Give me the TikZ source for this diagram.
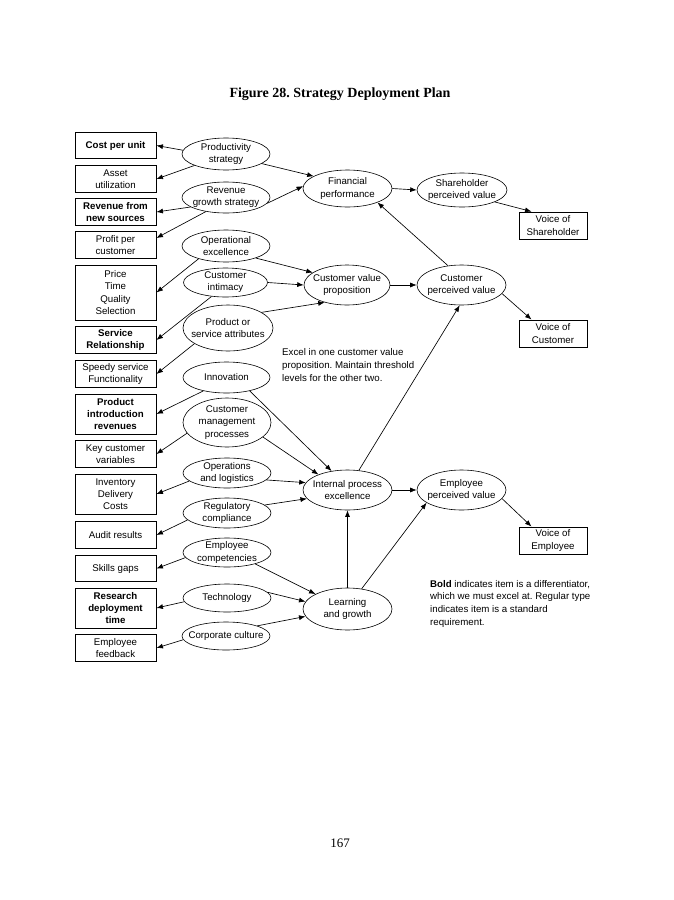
\documentclass[tikz,border=0pt]{standalone}
\usepackage{fontspec}
\setmainfont{Liberation Sans}
\newfontfamily\titlefont{Liberation Serif}
\usepackage{tikz}
\usetikzlibrary{shapes.geometric,arrows.meta,positioning}
\frenchspacing
\tikzset{
node distance=2cm, % not used much, nodes sit at coordinates
goal/.style={draw, ellipse, line width=0.6pt, inner sep=-8pt, align=center, minimum width=88pt, minimum height=31pt}, % ellipses
item/.style={draw, rectangle, line width=0.9pt, inner xsep=1pt, inner ysep=2pt, align=center, minimum width=81pt, minimum height=26.5pt}, % left boxes
voice/.style={item, minimum width=68pt, minimum height=27pt}, % voice boxes
link/.style={-{Latex[length=6.5pt,width=5pt]}, line width=0.65pt}, % connectors
}
\begin{document}
\begin{tikzpicture}[x=1pt,y=-1pt,font=\fontsize{9.7}{12.2}\selectfont]
   \useasboundingbox (0,0) rectangle (674,900);
   \node[font=\titlefont\fontsize{14}{16}\selectfont\bfseries] (title) at (340,94) {Figure 28. Strategy Deployment Plan};
   \node[font=\titlefont\fontsize{13}{15}\selectfont] (page) at (340,843) {167};
   % left column boxes
   \node[item] (cost)      at (115.5,145.5) {\textbf{Cost per unit}};
   \node[item] (asset)     at (115.5,179)   {Asset\\utilization};
   \node[item] (revnew)    at (115.5,212)   {\textbf{Revenue from}\\\textbf{new sources}};
   \node[item] (profit)    at (115.5,245)   {Profit per\\customer};
   \node[item, minimum height=55pt] (price) at (115.5,292.5) {Price\\Time\\Quality\\Selection};
   \node[item] (service)   at (115.5,340)   {\textbf{Service}\\\textbf{Relationship}};
   \node[item] (speedy)    at (115.5,374)   {Speedy service\\Functionality};
   \node[item, minimum height=40pt] (product) at (115.5,414) {\textbf{Product}\\\textbf{introduction}\\\textbf{revenues}};
   \node[item] (keycust)   at (115.5,454)   {Key customer\\variables};
   \node[item, minimum height=40pt] (inventory) at (115.5,494) {Inventory\\Delivery\\Costs};
   \node[item] (audit)     at (115.5,535)   {Audit results};
   \node[item] (skills)    at (115.5,568.5) {Skills gaps};
   \node[item, minimum height=40pt] (research) at (115.5,608) {\textbf{Research}\\\textbf{deployment}\\\textbf{time}};
   \node[item] (feedback)  at (115.5,648)   {Employee\\feedback};
   % second column ellipses
   \node[goal, minimum height=32pt] (prod) at (226,154)   {Productivity\\strategy};
   \node[goal] (rev)   at (226,197.5) {Revenue\\growth strategy};
   \node[goal, minimum height=32pt] (oper) at (226,246)   {Operational\\excellence};
   \node[goal, minimum width=84pt, minimum height=29pt] (cint) at (225.5,282.5) {Customer\\intimacy};
   \node[goal, minimum width=90pt, minimum height=46pt] (psa) at (228,328) {Product or\\service attributes};
   \node[goal, minimum width=87pt] (innov) at (226.5,377.5) {Innovation};
   \node[goal, minimum height=49pt] (cmp) at (227,422.5) {Customer\\management\\processes};
   \node[goal, minimum height=30pt] (ops)  at (227,473)   {Operations\\and logistics};
   \node[goal, minimum height=30pt] (reg)  at (227,513)   {Regulatory\\compliance};
   \node[goal, minimum height=29pt] (empc) at (227,552.5) {Employee\\competencies};
   \node[goal, minimum height=28pt] (tech) at (227,598)   {Technology};
   \node[goal, minimum height=28pt] (corp) at (226,636)   {Corporate culture};
   % middle and right
   \node[goal, minimum width=89pt, minimum height=37pt] (fin) at (347.5,188.5) {Financial\\performance};
   \node[goal, minimum width=90pt, minimum height=34pt] (sh)  at (462,190)     {Shareholder\\perceived value};
   \node[goal, minimum width=86pt, minimum height=40pt] (cvp) at (347,285)     {Customer value\\proposition};
   \node[goal, minimum width=89pt, minimum height=40pt] (cpv) at (461.5,285)   {Customer\\perceived value};
   \node[goal, minimum width=89pt, minimum height=40pt] (ipe) at (347.5,490)   {Internal process\\excellence};
   \node[goal, minimum width=89pt, minimum height=40pt] (epv) at (461.5,490)   {Employee\\perceived value};
   \node[goal, minimum width=89pt, minimum height=42pt] (lg)  at (347.5,609)   {Learning\\and growth};
   \node[voice] (vsh) at (553,225.5) {Voice of\\Shareholder};
   \node[voice] (vcu) at (553,333.5) {Voice of\\Customer};
   \node[voice] (vem) at (553,540.5) {Voice of\\Employee};
   % notes
   \node[anchor=north west, align=left, inner sep=0pt, font=\fontsize{9.7}{13}\selectfont] (excel) at (282,348)
      {Excel in one customer value\\proposition. Maintain threshold\\levels for the other two.};
   \node[anchor=north west, align=left, inner sep=0pt, font=\fontsize{9.7}{12.6}\selectfont] (legend) at (430,580)
      {\textbf{Bold} indicates item is a differentiator,\\which we must excel at. Regular type\\indicates item is a standard\\requirement.};
    \path[link]
    (prod.175) edge (cost.east)
    (prod.200) edge (asset.east)
    (rev.195)  edge (revnew.east)
    (rev.215)  edge ([yshift=7pt]profit.east)
    (oper.205) edge (price.east)
    (cint.225) edge (service.east)
    (psa.205)  edge (speedy.east)
    (innov.210) edge (product.east)
    (cmp.195)  edge (keycust.east)
    (ops.192)  edge (inventory.east)
    (reg.190)  edge (audit.east)
    (empc.187) edge (skills.east)
    (tech.185) edge (research.east)
    (corp.185) edge (feedback.east);
    \path[link]
    (prod.-15) edge (fin.160)
    (rev.-8)   edge (fin.177)
    (oper.-22) edge (cvp.160)
    (cint.east) edge (cvp.west)
    (psa.25)   edge (cvp.218)
    (innov.-30) edge (ipe.130)
    (cmp.-22)  edge (ipe.152)
    (ops.-10)  edge (ipe.170)
    (reg.12)   edge (ipe.192)
    (empc.-22) edge (lg.155)
    (tech.8)   edge (lg.170)
    (corp.18)  edge (lg.190);
    \path[link]
    (fin.east) edge (sh.west)
    (cvp.east) edge (cpv.west)
    (ipe.east) edge (epv.west)
    (cpv.125)  edge (fin.-25)
    (ipe.60)   edge (cpv.265)
    (lg.north) edge (ipe.south)
    (lg.55)    edge (epv.200)
    (sh.-20)   edge (vsh.147)
    (cpv.-12)  edge (vcu.147)
    (epv.-12)  edge (vem.147);
\end{tikzpicture}
\end{document}
